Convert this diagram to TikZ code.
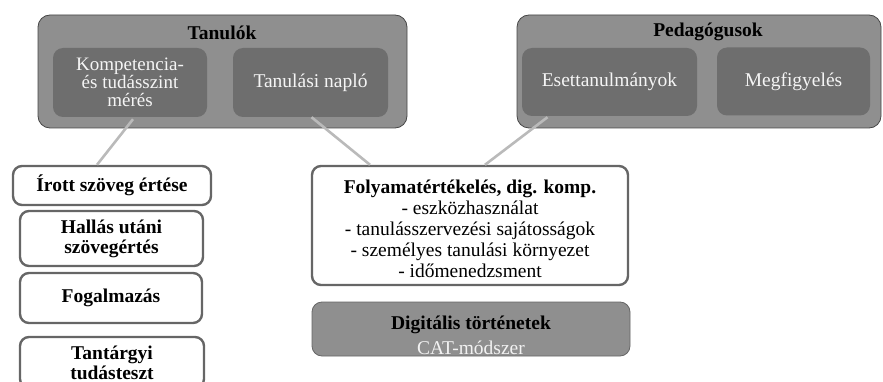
\documentclass[tikz,border=0pt]{standalone}
\usepackage{fontspec}
\setmainfont{Liberation Serif}
\begin{document}
\begin{tikzpicture}[x=1pt,y=-1pt,
  outerbox/.style={draw=gray!55!black, line width=0.8pt, fill=black!44, rounded corners=12pt},
  innerbox/.style={draw=none, fill=black!57, rounded corners=10pt, text=black!4,
     align=center, font=\fontsize{19}{18}\selectfont, inner sep=0pt},
  whitebox/.style={draw=black!60, line width=2.4pt, fill=white, rounded corners=9pt,
     align=center, font=\fontsize{19.5}{20}\selectfont\bfseries, inner sep=0pt},
  graybox/.style={draw=black!60, line width=0.8pt, fill=black!44, rounded corners=10pt, inner sep=0pt},
  title/.style={font=\fontsize{19.5}{20.5}\selectfont\bfseries, inner sep=0pt},
  link/.style={draw=black!27, line width=2.6pt}
]
\useasboundingbox (0,0) rectangle (883,382);
% upper groups
\node[outerbox, minimum width=369pt, minimum height=113pt] (tan) at (222.5,71.5) {};
\node[title] (tantitle) at (222,33) {Tanulók};
\node[innerbox, minimum width=154pt, minimum height=69pt] (komp) at (130,82.5)
  {Kompetencia-\\és tudásszint\\mérés};
\node[innerbox, minimum width=155pt, minimum height=69pt, font=\fontsize{19.5}{18}\selectfont] (napl) at (310.5,82.5) {Tanulási napló};

\node[outerbox, minimum width=364pt, minimum height=113pt] (ped) at (699,71.5) {};
\node[title] (pedtitle) at (708,32) {Pedagógusok};
\node[innerbox, minimum width=175pt, minimum height=68pt, font=\fontsize{19.5}{18}\selectfont] (eset) at (609.5,82) {Esettanulmányok};
\node[innerbox, minimum width=153pt, minimum height=68pt, font=\fontsize{19.5}{18}\selectfont] (megf) at (793.5,81.5) {Megfigyelés};

% left column
\node[whitebox, minimum width=198pt, minimum height=39pt] (irott) at (112,185.5) {Írott szöveg értése};
\node[whitebox, minimum width=183pt, minimum height=55pt] (hall) at (111.5,238.5) {Hallás utáni\\szövegértés};
\node[whitebox, minimum width=182pt, minimum height=50pt] (fogal) at (111,298) {Fogalmazás};
\node[whitebox, minimum width=184pt, minimum height=51pt] (tant) at (112,362.5) {Tantárgyi\\tudásteszt};

% middle
\node[whitebox, minimum width=316pt, minimum height=119pt] (foly) at (470,225.5) {};
\node[font=\fontsize{19.5}{21}\selectfont, align=center, inner sep=0pt] (folytext) at (470,229)
  {\textbf{Folyamatértékelés, dig. komp.}\\- eszközhasználat\\- tanulásszervezési sajátosságok\\- személyes tanulási környezet\\- időmenedzsment};
\node[graybox, minimum width=318pt, minimum height=54pt] (dig) at (471,329) {};
\node[title] (digtitle) at (471,325) {Digitális történetek};
\node[font=\fontsize{19.5}{20}\selectfont, text=black!5, inner sep=0pt] (cat) at (471,348) {CAT-módszer};

% connectors
\draw[link] ([xshift=3pt,yshift=-2pt]komp.south) -- ([xshift=-15pt]irott.north);
\draw[link] ([xshift=1pt]napl.south) -- ([xshift=-100pt]foly.north);
\draw[link] ([xshift=-62pt,yshift=-1pt]eset.south) -- ([xshift=15pt]foly.north);
\end{tikzpicture}
\end{document}
